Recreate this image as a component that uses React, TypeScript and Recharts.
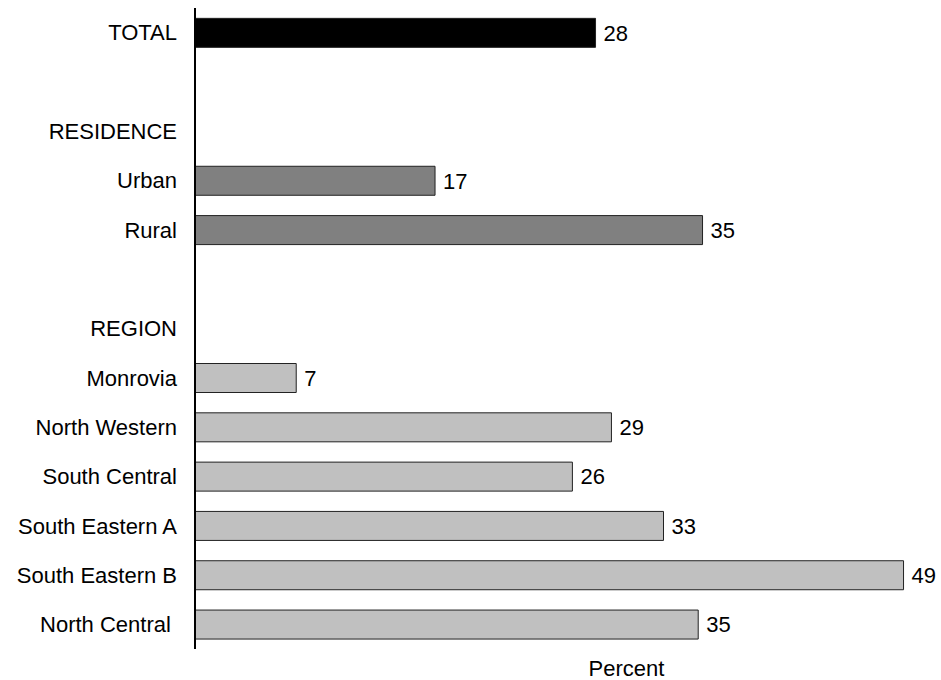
import React from 'react';
import { BarChart, Bar, XAxis, YAxis, Cell, LabelList } from 'recharts';

// rows top to bottom; blank rows and section headers carry no bar
const categories = [
  'TOTAL', ' ', 'RESIDENCE', 'Urban', 'Rural', '  ', 'REGION',
  'Monrovia', 'North Western', 'South Central', 'South Eastern A', 'South Eastern B', 'North Central\u00a0',
];
const percents = [27.7, null, null, 16.6, 35.1, null, null, 7.0, 28.8, 26.1, 32.4, 49.0, 34.8];
const printed = ['28', '', '', '17', '35', '', '', '7', '29', '26', '33', '49', '35'];
const groups = ['total', '', '', 'residence', 'residence', '', '', 'region', 'region', 'region', 'region', 'region', 'region'];

const FILLS: Record<string, string> = {
  total: '#000000',
  residence: '#808080',
  region: '#c0c0c0',
};

const data = categories.map((name, i) => ({
  name,
  value: percents[i],
  label: printed[i],
  group: groups[i],
}));

const FONT = '"Liberation Sans", Arial, sans-serif';

export default function App() {
  return (
    <div style={{ position: 'absolute', left: 0, top: 0, fontFamily: FONT, background: '#fff' }}>
      <BarChart
        width={941}
        height={680}
        data={data}
        layout="vertical"
        margin={{ top: 8, right: 23, bottom: 0, left: 0 }}
        barCategoryGap="21%"
      >
        <XAxis
          type="number"
          domain={[0, 50]}
          axisLine={false}
          tickLine={false}
          tick={false}
          height={31}
          label={{ value: 'Percent', position: 'insideBottom', offset: 4, dx: 70, fill: '#000', fontSize: 22 }}
        />
        <YAxis
          type="category"
          dataKey="name"
          width={195}
          axisLine={{ stroke: '#000', strokeWidth: 2 }}
          tickLine={false}
          tickSize={0}
          tickMargin={18}
          interval={0}
          tick={{ fill: '#000', fontSize: 22 }}
        />
        <Bar dataKey="value" stroke="#222" strokeWidth={1} isAnimationActive={false}>
          {data.map((d, i) => (
            <Cell key={`cell-${i}`} fill={FILLS[d.group] || '#fff'} />
          ))}
          <LabelList dataKey="label" position="right" offset={8} fill="#000" fontSize={22} />
        </Bar>
      </BarChart>
    </div>
  );
}
